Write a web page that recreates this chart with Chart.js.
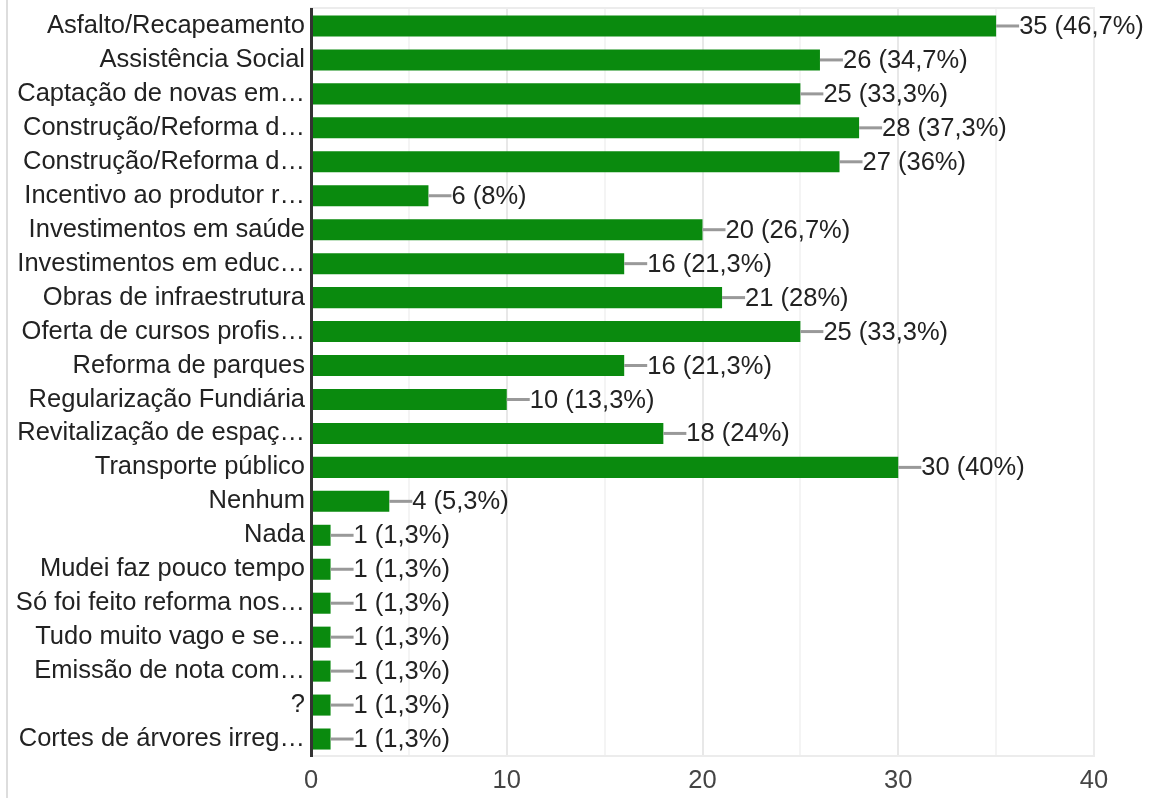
<!DOCTYPE html>
<html>
<head>
<meta charset="utf-8">
<script src="https://cdn.jsdelivr.net/npm/chart.js@4/dist/chart.umd.min.js"></script>
<style>
  html, body { margin: 0; padding: 0; background: #fff; }
  .wrap { position: relative; width: 1150px; height: 798px; }
  .edge { position: absolute; left: 6px; top: 0; width: 2px; height: 798px; background: #ddd; }
</style>
</head>
<body>
<div class="wrap">
  <canvas id="chart" width="1150" height="798"></canvas>
  <div class="edge"></div>
</div>
<script>
const categorias = [
    'Asfalto/Recapeamento',
    'Assistência Social',
    'Captação de novas em…',
    'Construção/Reforma d…',
    'Construção/Reforma d…',
    'Incentivo ao produtor r…',
    'Investimentos em saúde',
    'Investimentos em educ…',
    'Obras de infraestrutura',
    'Oferta de cursos profis…',
    'Reforma de parques',
    'Regularização Fundiária',
    'Revitalização de espaç…',
    'Transporte público',
    'Nenhum',
    'Nada',
    'Mudei faz pouco tempo',
    'Só foi feito reforma nos…',
    'Tudo muito vago e se…',
    'Emissão de nota com…',
    '?',
    'Cortes de árvores irreg…'
]

const respostas = [35, 26, 25, 28, 27, 6, 20, 16, 21, 25, 16, 10, 18, 30, 4, 1, 1, 1, 1, 1, 1, 1]

const totalRespondentes = 75

const ticksX = [0, 10, 20, 30, 40]

function formatLabel(v) {
    const pct = (v / totalRespondentes * 100).toLocaleString('pt-BR', { maximumFractionDigits: 1 })
    return `${v} (${pct}%)`
}

const fonte = '"Liberation Sans", Arial, sans-serif'

// moldura clara em volta da área do gráfico
const moldura = {
    id: 'moldura',
    beforeDatasetsDraw(chart) {
        const { ctx, chartArea: a } = chart
        ctx.save()
        ctx.strokeStyle = '#ececec'
        ctx.lineWidth = 2
        ctx.strokeRect(a.left, a.top - 1, a.right - a.left, a.bottom - a.top + 1)
        ctx.restore()
    }
}

// linha cinza + texto no fim de cada barra
const rotulos = {
    id: 'rotulos',
    afterDatasetsDraw(chart) {
        const ctx = chart.ctx
        const meta = chart.getDatasetMeta(0)
        ctx.save()
        ctx.font = `25.5px ${fonte}`
        ctx.textBaseline = 'middle'
        ctx.textAlign = 'left'
        meta.data.forEach((bar, i) => {
            const x = bar.x
            const y = bar.y
            ctx.strokeStyle = '#999'
            ctx.lineWidth = 3
            ctx.beginPath()
            ctx.moveTo(x, y)
            ctx.lineTo(x + 23, y)
            ctx.stroke()
            ctx.fillStyle = '#222'
            ctx.fillText(formatLabel(respostas[i]), x + 23, y + 1)
        })
        ctx.restore()
    }
}

const ctx = document.getElementById('chart').getContext('2d')

new Chart(ctx, {
    type: 'bar',
    data: {
        labels: categorias,
        datasets: [{
            data: respostas,
            backgroundColor: '#0a8a0e',
            barPercentage: 0.62,
            categoryPercentage: 1
        }]
    },
    options: {
        indexAxis: 'y',
        responsive: false,
        animation: false,
        layout: { padding: { top: 9, right: 56, bottom: 0, left: 0 } },
        plugins: {
            legend: { display: false },
            tooltip: { enabled: false }
        },
        scales: {
            x: {
                min: ticksX[0],
                max: ticksX[ticksX.length - 1],
                afterBuildTicks: scale => {
                    const t = []
                    for (let v = ticksX[0]; v <= ticksX[ticksX.length - 1]; v += 5) t.push({ value: v })
                    scale.ticks = t
                },
                afterFit: scale => { scale.height = 42 },
                grid: {
                    drawTicks: false,
                    color: c => (c.tick && c.tick.value % 10 === 0) ? '#e8e8e8' : '#f4f4f4',
                    lineWidth: 2
                },
                border: { display: false },
                ticks: {
                    padding: 10,
                    color: '#444',
                    font: { family: fonte, size: 25.5 },
                    callback: v => ticksX.includes(v) ? v : ''
                }
            },
            y: {
                afterFit: scale => {
                    scale.width = 311
                    scale.paddingTop = 0
                    scale.paddingBottom = 0
                },
                grid: { display: false, drawTicks: false },
                border: { display: true, color: '#333', width: 3, z: 1 },
                ticks: {
                    padding: 6,
                    color: '#222',
                    font: { family: fonte, size: 25.5 },
                    autoSkip: false
                }
            }
        }
    },
    plugins: [moldura, rotulos]
})
</script>
</body>
</html>
